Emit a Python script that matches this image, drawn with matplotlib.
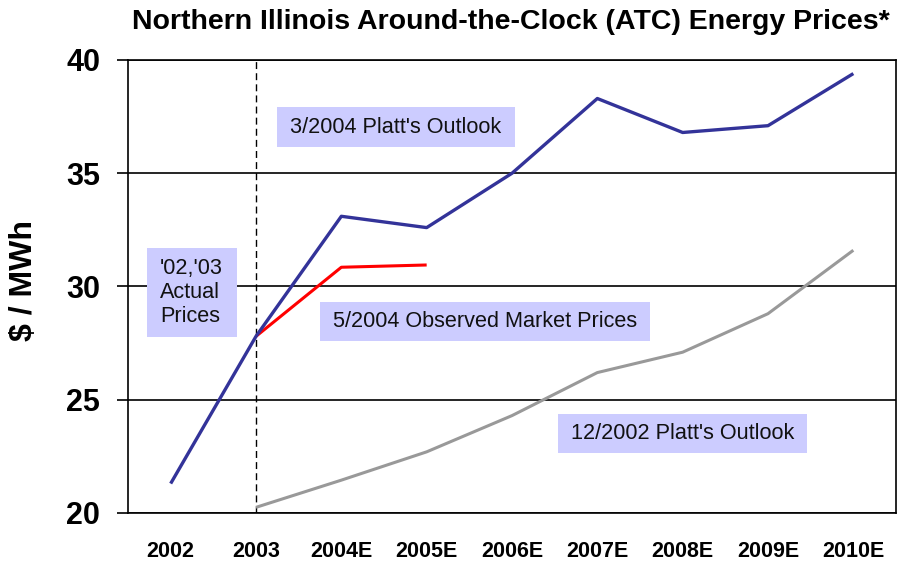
import matplotlib
matplotlib.use("Agg")
import matplotlib.pyplot as plt
from matplotlib.patches import Rectangle

categories = ["2002", "2003", "2004E", "2005E", "2006E", "2007E", "2008E", "2009E", "2010E"]
outlook_2004 = [21.3, 27.8, 33.1, 32.6, 35.0, 38.3, 36.8, 37.1, 39.4]
observed_2004 = [None, 27.8, 30.85, 30.95, None, None, None, None, None]
outlook_2002 = [None, 20.25, 21.45, 22.7, 24.3, 26.2, 27.1, 28.8, 31.6]
y_ticks = [20, 25, 30, 35, 40]

fig = plt.figure(figsize=(8.98, 5.63), dpi=100)
ax = fig.add_axes([128/898, 1-513/563, 768/898, 453/563])

x = list(range(len(categories)))

def seg(vals):
    xs = [i for i, v in zip(x, vals) if v is not None]
    ys = [v for v in vals if v is not None]
    return xs, ys

ax.plot(*seg(outlook_2002), color="#999999", lw=2.2, zorder=3, solid_capstyle="butt")
ax.plot(*seg(observed_2004), color="#FF0000", lw=2.2, zorder=4, solid_capstyle="butt")
ax.plot(*seg(outlook_2004), color="#333399", lw=2.4, zorder=5, solid_capstyle="butt")

ax.axvline(1, color="black", lw=1.0, ls=(0, (5, 3)), zorder=2)

ax.set_xlim(-0.5, len(categories) - 0.5)
ax.set_ylim(20, 40)
ax.set_yticks(y_ticks)
ax.set_yticklabels([str(t) for t in y_ticks])
ax.set_xticks(x)
ax.set_xticklabels(categories)
ax.yaxis.grid(True, color="black", lw=1.2)
ax.set_axisbelow(True)
for s in ax.spines.values():
    s.set_color("black")
    s.set_linewidth(1.2)

ax.tick_params(axis="y", length=8, width=1.2, pad=12, color="black")
ax.tick_params(axis="x", length=0, pad=20)
for lab in ax.get_yticklabels():
    lab.set_fontfamily("Liberation Sans")
    lab.set_fontweight("bold")
    lab.set_fontsize(22)
for lab in ax.get_xticklabels():
    lab.set_fontfamily("Liberation Sans")
    lab.set_fontweight("bold")
    lab.set_fontsize(15.5)

fig.text(24/898, 1-280/563, "$ / MWh", rotation=90, ha="center", va="center",
         fontsize=23, fontweight="bold", family="Liberation Sans")

fig.text(511/898, 1-22/563, "Northern Illinois Around-the-Clock (ATC) Energy Prices*",
         ha="center", va="center", fontsize=20.5, fontweight="bold", family="Liberation Sans")

box_color = "#CCCCFF"
boxes = [
    (1.246, 36.16, 4.035, 37.92, "3/2004 Platt's Outlook", "center"),
    (-0.277, 27.77, 0.777, 31.70, "'02,'03\nActual\nPrices", "left"),
    (1.75, 27.59, 5.617, 29.32, "5/2004 Observed Market Prices", "center"),
    (4.539, 22.65, 7.457, 24.37, "12/2002 Platt's Outlook", "center"),
]
for x0, y0, x1, y1, txt, align in boxes:
    ax.add_patch(Rectangle((x0, y0), x1 - x0, y1 - y0, facecolor=box_color,
                           edgecolor="none", zorder=1))
    if align == "center":
        ax.text((x0 + x1) / 2, (y0 + y1) / 2, txt, ha="center", va="center",
                fontsize=15.6, family="Liberation Sans", color="#111111", zorder=6)
    else:
        ax.text(x0 + 0.15, (y0 + y1) / 2, txt, ha="left", va="center",
                fontsize=15.6, family="Liberation Sans", color="#111111",
                linespacing=1.2, zorder=6)

fig.savefig("out.png", dpi=100)
